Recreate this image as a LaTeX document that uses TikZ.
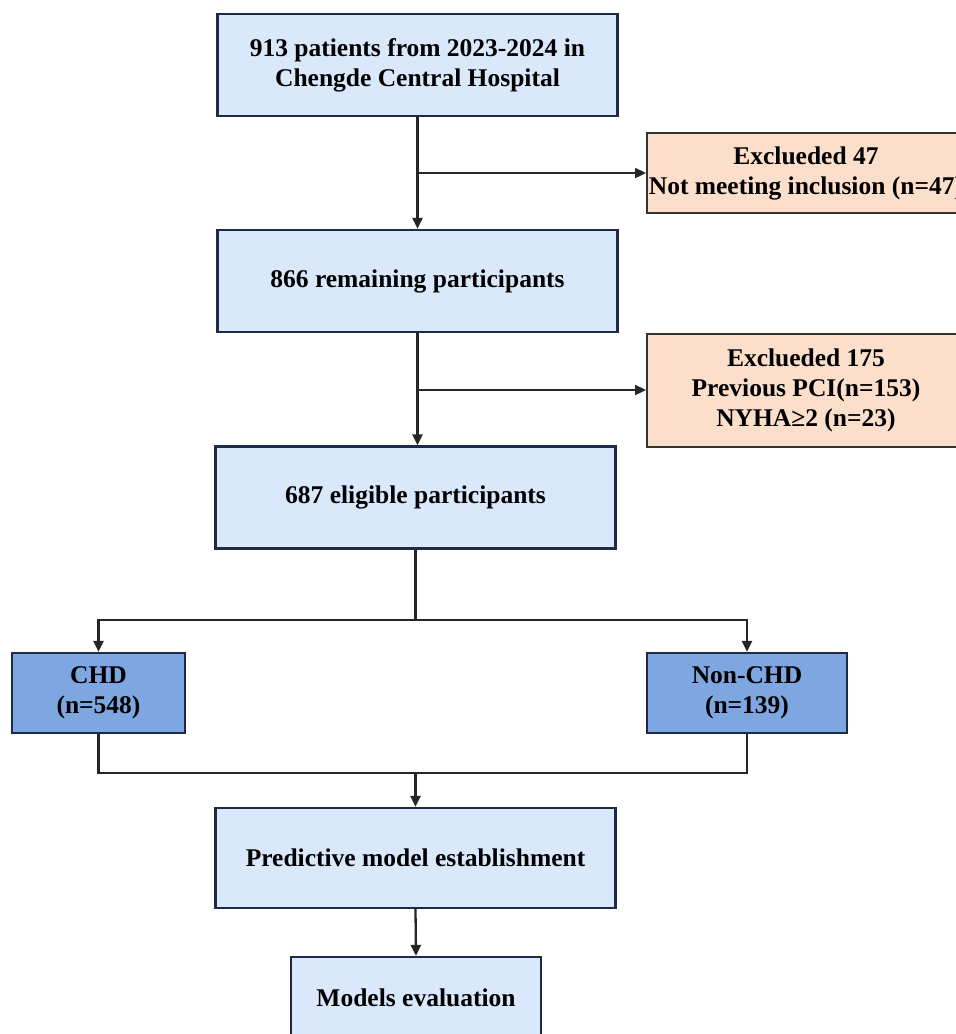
\documentclass[tikz,border=0pt]{standalone}
\usepackage{fontspec}
\setmainfont{Liberation Serif}
\usetikzlibrary{arrows.meta}
\definecolor{lightblue}{HTML}{DAE8FC}
\definecolor{midblue}{HTML}{7EA6E0}
\definecolor{peach}{HTML}{FCDFCB}
\definecolor{navy}{HTML}{1F2A48}
\definecolor{greyline}{HTML}{333333}
\begin{document}
\begin{tikzpicture}[x=1pt,y=-1pt,
  every node/.style={font=\fontsize{25.5}{30}\selectfont\bfseries, text=black, align=center, inner sep=0pt},
  mainbox/.style={draw=navy, line width=2.2pt, fill=lightblue, minimum width=400pt, minimum height=102pt},
  grpbox/.style={draw=navy, line width=2.2pt, fill=midblue, minimum height=80pt},
  exbox/.style={draw=greyline, line width=2pt, fill=peach, minimum width=318pt},
  conn/.style={draw=black!85, line width=2.3pt},
  arr/.style={conn, -{Triangle[length=11pt,width=10pt]}}]
\useasboundingbox (0,0) rectangle (956,1034);
\clip (0,0) rectangle (956,1034);
\node[mainbox] (b1) at (417.5,65) {913 patients from 2023-2024 in\\Chengde Central Hospital};
\node[exbox, minimum height=80pt] (e1) at (806,173) {Exclueded 47\\Not meeting inclusion (n=47)};
\node[mainbox] (b2) at (417.5,281) {866 remaining participants};
\node[exbox, minimum height=113pt] (e2) at (806,390) {Exclueded 175\\Previous PCI(n=153)\\NYHA≥2 (n=23)};
\node[mainbox] (b3) at (415.5,497.5) {687 eligible participants};
\node[grpbox, minimum width=173pt] (chd) at (98.5,693) {CHD\\(n=548)};
\node[grpbox, minimum width=200pt] (nchd) at (747,693) {Non-CHD\\(n=139)};
\node[mainbox, minimum height=100pt] (b4) at (415.5,858) {Predictive model establishment};
\node[mainbox, minimum width=250pt, minimum height=82pt] (b5) at (416,998) {Models evaluation};
\coordinate (j1) at (417.5,173);
\coordinate (j2) at (417.5,390);
\coordinate (s1) at (415.5,620);
\coordinate (s2) at (415.5,773);
% connectors
\draw[arr] (b1.south) -- (b2.north);
\draw[arr] (j1) -- (e1.west);
\draw[arr] (b2.south) -- (b3.north -| b2.south);
\draw[arr] (j2) -- (e2.west);
\draw[conn] (b3.south) -- (s1);
\draw[arr] (s1) -| (chd.north);
\draw[arr] (s1) -| (nchd.north);
\draw[conn] (chd.south) |- (s2);
\draw[conn] (nchd.south) |- (s2);
\draw[arr] (s2) -- (b4.north);
\draw[arr] (b4.south) -- (b5.north);
\end{tikzpicture}
\end{document}
